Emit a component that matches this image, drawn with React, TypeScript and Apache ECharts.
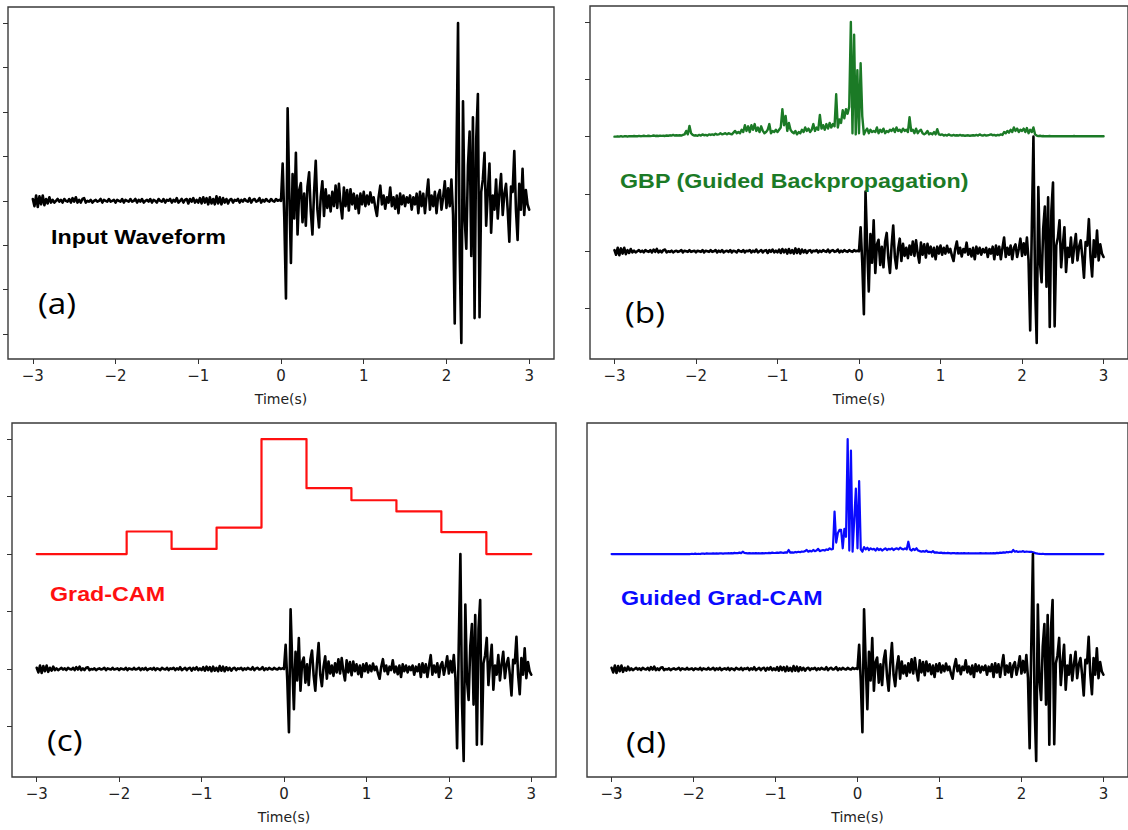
import React, { useEffect, useRef } from "react";
import * as echarts from "echarts";

// Sampling of every trace: first sample time and step (s)
const T0 = -3;
const DT = 0.02;

// Seismogram, normalised to the largest peak; pre-arrival noise, t = -3.00 … -0.02 s
const WAVE_PRE = [
  0.01, -0.03, 0.03, -0.035, 0.025, -0.02, 0.03, -0.025, 0.01, -0.015,
  0.02, -0.01, 0.005, -0.01, 0.0, 0.01, -0.005, 0.005, -0.01, 0.01,
  0.0, -0.005, 0.01, -0.01, 0.015, -0.005, 0.02, -0.01, 0.005, -0.01,
  0.01, 0.015, -0.01, 0.0, -0.005, 0.005, -0.01, 0.0, 0.005, -0.005,
  0.0, 0.01, -0.01, 0.005, 0.0, -0.005, 0.01, -0.005, 0.0, 0.005,
  -0.01, 0.005, 0.0, -0.005, 0.01, -0.01, 0.005, 0.0, -0.005, 0.01,
  -0.005, 0.0, 0.01, -0.01, 0.005, -0.005, 0.01, -0.01, 0.0, 0.005,
  -0.005, 0.01, -0.01, 0.005, 0.0, -0.01, 0.01, 0.0, -0.005, 0.01,
  -0.01, 0.005, 0.0, 0.01, -0.01, 0.005, -0.005, 0.015, -0.01, 0.0,
  0.01, -0.01, 0.005, 0.01, -0.015, 0.01, -0.005, 0.015, -0.01, 0.005,
  -0.01, 0.015, -0.015, 0.02, -0.01, 0.015, -0.02, 0.02, -0.015, 0.01,
  -0.02, 0.025, -0.015, 0.02, -0.02, 0.015, -0.01, 0.01, -0.015, 0.005,
  0.01, -0.01, 0.005, 0.0, 0.01, -0.01, 0.005, -0.005, 0.01, 0.0,
  -0.005, 0.015, -0.01, 0.005, 0.01, -0.005, 0.0, 0.015, -0.01, 0.005,
  -0.005, 0.01, 0.0, -0.005, 0.01, 0.0, -0.005, 0.01, 0.0, 0.005,
];

// P onset to end of record, t = 0.00 … 3.00 s
const WAVE_POST = [
  0.0, 0.21, -0.1, -0.55, 0.52, 0.05, -0.35, 0.15, -0.1, 0.27,
  -0.19, 0.06, 0.1, -0.12, 0.04, -0.14, 0.08, 0.16, -0.06, -0.19,
  0.05, 0.225, -0.05, -0.15, 0.02, 0.11, -0.085, 0.065, -0.04, 0.03,
  -0.06, 0.05, -0.03, 0.085, -0.04, 0.095, -0.02, -0.1, 0.075, -0.03,
  0.06, -0.055, 0.065, -0.02, 0.04, -0.045, 0.03, -0.07, 0.04, -0.02,
  0.05, -0.03, 0.03, -0.02, 0.047, -0.01, 0.02, -0.04, -0.085, 0.02,
  0.085, -0.02, 0.03, -0.045, 0.02, -0.01, 0.075, -0.03, 0.02, -0.045,
  0.03, -0.07, 0.04, -0.02, 0.03, -0.03, 0.02, -0.01, 0.03, -0.05,
  0.02, -0.02, 0.04, -0.07, 0.05, -0.03, 0.04, -0.07, 0.03, 0.12,
  -0.05, 0.03, -0.03, 0.05, -0.07, 0.03, 0.06, -0.05, 0.02, 0.11,
  -0.04, 0.07, -0.03, 0.12, -0.08, -0.69, 0.2, 1.0, -0.3, -0.8,
  0.56, -0.1, -0.27, 0.2, 0.39, -0.31, 0.47, -0.66, 0.35, 0.6,
  -0.655, 0.05, 0.12, 0.27, -0.14, 0.05, 0.21, -0.18, 0.03, -0.05,
  0.12, -0.1, 0.04, 0.15, -0.08, 0.04, 0.095, -0.05, -0.23, 0.08,
  0.05, 0.28, -0.05, -0.22, 0.095, -0.05, 0.18, -0.08, 0.06, -0.02,
  -0.05,
];

// Guided backpropagation saliency, t = -3.00 … 3.00 s
const GBP = [
  0, 0, 0.003, 0, 0.004, 0, 0.003, 0.005, 0, 0.004,
  0.005, 0.003, 0.006, 0.004, 0.003, 0.007, 0.004, 0.005, 0.008, 0.005,
  0.006, 0.008, 0.005, 0.007, 0.01, 0.006, 0.008, 0.006, 0.009, 0.007,
  0.008, 0.006, 0.01, 0.008, 0.012, 0.009, 0.015, 0.01, 0.012, 0.01,
  0.012, 0.01, 0.015, 0.02, 0.05, 0.02, 0.094, 0.03, 0.015, 0.01,
  0.012, 0.008, 0.015, 0.01, 0.02, 0.012, 0.015, 0.01, 0.02, 0.015,
  0.02, 0.015, 0.025, 0.018, 0.02, 0.03, 0.02, 0.025, 0.03, 0.02,
  0.03, 0.025, 0.02, 0.035, 0.05, 0.03, 0.04, 0.03, 0.06, 0.04,
  0.1, 0.05, 0.09, 0.04, 0.1, 0.06, 0.11, 0.05, 0.08, 0.04,
  0.09, 0.05, 0.03, 0.04, 0.06, 0.11, 0.03, 0.05, 0.04, 0.06,
  0.04, 0.06, 0.08, 0.24, 0.1, 0.18, 0.05, 0.12, 0.06, 0.04,
  0.03, 0.05, 0.02, 0.04, 0.03, 0.06, 0.04, 0.08, 0.05, 0.07,
  0.04, 0.06, 0.11, 0.05, 0.08, 0.06, 0.19, 0.07, 0.1, 0.06,
  0.11, 0.07, 0.12, 0.08, 0.11, 0.09, 0.37, 0.08, 0.15, 0.12,
  0.23, 0.16, 0.24, 0.2, 0.26, 1.0, 0.03, 0.89, 0.02, 0.58,
  0.03, 0.64, 0.18, 0.02, 0.05, 0.07, 0.03, 0.06, 0.04, 0.05,
  0.04, 0.08, 0.03, 0.06, 0.04, 0.07, 0.03, 0.05, 0.04, 0.06,
  0.05, 0.07, 0.04, 0.08, 0.05, 0.06, 0.04, 0.07, 0.05, 0.06,
  0.04, 0.17, 0.05, 0.06, 0.03, 0.07, 0.03, 0.05, 0.06, 0.03,
  0.02, 0.03, 0.05, 0.02, 0.03, 0.02, 0.04, 0.02, 0.065, 0.02,
  0.015, 0.02, 0.01, 0.015, 0.01, 0.02, 0.012, 0.01, 0.015, 0.01,
  0.012, 0.01, 0.015, 0.01, 0.012, 0.008, 0.01, 0.012, 0.008, 0.01,
  0.012, 0.01, 0.015, 0.01, 0.02, 0.012, 0.01, 0.015, 0.01, 0.012,
  0.015, 0.02, 0.012, 0.015, 0.01, 0.015, 0.012, 0.02, 0.015, 0.04,
  0.03, 0.05, 0.035, 0.06, 0.04, 0.08, 0.05, 0.07, 0.04, 0.06,
  0.05, 0.07, 0.04, 0.075, 0.03, 0.06, 0.04, 0.08, 0.02, 0.01,
  0.005, 0.008, 0.004, 0.006, 0.003, 0.005, 0.004, 0.006, 0.003, 0.005,
  0.004, 0.003, 0.005, 0.004, 0.003, 0.005, 0.004, 0.003, 0.005, 0.004,
  0.003, 0.004, 0.006, 0.003, 0.004, 0.005, 0.003, 0.004, 0.005, 0.003,
  0.004, 0.003, 0.005, 0.004, 0.003, 0.004, 0.003, 0.005, 0.003, 0.004,
  0.003,
];

// Guided Grad-CAM saliency, t = -3.00 … 3.00 s
const GUIDED_CAM = [
  0, 0, 0, 0, 0, 0, 0, 0, 0, 0,
  0, 0, 0, 0, 0, 0, 0, 0, 0, 0,
  0, 0, 0, 0, 0, 0, 0, 0, 0, 0,
  0, 0, 0, 0, 0, 0, 0, 0, 0, 0,
  0, 0, 0, 0, 0, 0, 0, 0, 0, 0.002,
  0, 0.003, 0, 0.002, 0, 0.003, 0.004, 0.002, 0.005, 0.003,
  0.004, 0.003, 0.006, 0.004, 0.005, 0.003, 0.006, 0.005, 0.004, 0.006,
  0.005, 0.007, 0.006, 0.008, 0.006, 0.01, 0.007, 0.008, 0.012, 0.008,
  0.02, 0.01, 0.008, 0.006, 0.008, 0.005, 0.007, 0.006, 0.008, 0.006,
  0.007, 0.005, 0.008, 0.006, 0.009, 0.007, 0.01, 0.008, 0.012, 0.009,
  0.01, 0.012, 0.01, 0.015, 0.012, 0.01, 0.015, 0.012, 0.035, 0.012,
  0.015, 0.012, 0.018, 0.015, 0.02, 0.016, 0.022, 0.02, 0.025, 0.035,
  0.02, 0.028, 0.022, 0.035, 0.025, 0.03, 0.045, 0.025, 0.03, 0.035,
  0.03, 0.04, 0.035, 0.05, 0.04, 0.045, 0.37, 0.1, 0.18, 0.21,
  0.21, 0.05, 0.22, 0.15, 1.0, 0.03, 0.9, 0.02, 0.3, 0.57,
  0.05, 0.635, 0.04, 0.02, 0.06, 0.04, 0.055, 0.035, 0.05, 0.04,
  0.045, 0.03, 0.05, 0.035, 0.045, 0.03, 0.04, 0.05, 0.035, 0.045,
  0.04, 0.05, 0.035, 0.045, 0.05, 0.04, 0.055, 0.045, 0.04, 0.05,
  0.04, 0.107, 0.04, 0.03, 0.045, 0.035, 0.05, 0.03, 0.025, 0.02,
  0.025, 0.02, 0.03, 0.018, 0.02, 0.015, 0.025, 0.012, 0.015, 0.012,
  0.01, 0.012, 0.008, 0.01, 0.007, 0.01, 0.008, 0.006, 0.008, 0.007,
  0.006, 0.008, 0.005, 0.007, 0.006, 0.008, 0.005, 0.006, 0.007, 0.005,
  0.006, 0.005, 0.007, 0.005, 0.006, 0.008, 0.006, 0.005, 0.007, 0.006,
  0.005, 0.007, 0.006, 0.008, 0.006, 0.01, 0.008, 0.012, 0.01, 0.015,
  0.012, 0.018, 0.015, 0.02, 0.016, 0.035, 0.02, 0.025, 0.018, 0.022,
  0.02, 0.025, 0.018, 0.022, 0.02, 0.018, 0.02, 0.015, 0.01, 0.005,
  0.003, 0.002, 0, 0.002, 0, 0, 0, 0, 0, 0,
  0, 0, 0, 0, 0, 0, 0, 0, 0, 0,
  0, 0, 0, 0, 0, 0, 0, 0, 0, 0,
  0, 0, 0, 0, 0, 0, 0, 0, 0, 0,
  0,
];

// Grad-CAM: one level per time bin (11 bins between these edges)
const CAM_EDGES = [-3, -2.455, -1.909, -1.364, -0.818, -0.273, 0.273, 0.818, 1.364, 1.909, 2.455, 3];
const CAM_LEVELS = [0, 0, 0.196, 0.044, 0.23, 1.0, 0.573, 0.468, 0.371, 0.19, 0];

// Saliency traces are drawn one unit above the waveform
const OFFSET = 1;

const TIME_TICKS = [-3, -2, -1, 0, 1, 2, 3];
const Y_TICKS_A = [-0.75, -0.5, -0.25, 0, 0.25, 0.5, 0.75, 1.0];
const Y_TICKS_STACKED = [-0.5, 0, 0.5, 1, 1.5, 2];

const GREEN = "#1b7a26";
const RED = "#ff1010";
const BLUE = "#0a0aff";

const toPairs = (vals: number[], off = 0) =>
  vals.map((v, i) => [Number((T0 + i * DT).toFixed(2)), v + off]);

const minusFmt = (v: number) => (v < 0 ? "\u2212" + Math.abs(v) : String(v));

export default function App() {
  const ref = useRef<HTMLDivElement>(null);

  useEffect(() => {
    if (!ref.current) return;
    const chart = echarts.init(ref.current, undefined, { renderer: "svg" });

    const wave = WAVE_PRE.concat(WAVE_POST);
    const wavePairs = toPairs(wave);

    const grids = [
      { left: 8, top: 7, width: 546, height: 352 },
      { left: 590, top: 6, width: 541, height: 353 },
      { left: 12, top: 423, width: 544, height: 354 },
      { left: 587, top: 423, width: 543, height: 354 },
    ];
    const yRanges = [
      [-0.89, 1.09],
      [-0.94, 2.14],
      [-0.94, 2.14],
      [-0.94, 2.14],
    ];
    const yTicks = [Y_TICKS_A, Y_TICKS_STACKED, Y_TICKS_STACKED, null];

    const axisFont = { fontFamily: "DejaVu Sans", color: "#222" };

    const xAxis = grids.map((_, k) => ({
      gridIndex: k,
      type: "value",
      position: "bottom",
      min: -3.3,
      max: 3.3,
      axisLine: { show: false, onZero: false },
      axisTick: {
        show: true,
        inside: false,
        length: 5,
        customValues: TIME_TICKS,
        lineStyle: { color: "#333", width: 1 },
      },
      axisLabel: {
        show: true,
        customValues: TIME_TICKS,
        margin: 9,
        fontSize: 15,
        ...axisFont,
        formatter: minusFmt,
      },
      splitLine: { show: false },
      name: "Time(s)",
      nameLocation: "middle",
      nameGap: 33,
      nameTextStyle: { fontSize: 14, ...axisFont },
    }));

    const yAxis = grids.map((_, k) => ({
      gridIndex: k,
      type: "value",
      position: "left",
      min: yRanges[k][0],
      max: yRanges[k][1],
      axisLine: { show: false, onZero: false },
      axisTick: {
        show: yTicks[k] !== null,
        inside: false,
        length: 5,
        customValues: yTicks[k] || [],
        lineStyle: { color: "#333", width: 1 },
      },
      axisLabel: { show: false },
      splitLine: { show: false },
    }));

    const line = (k: number, data: any[], color: string, width: number, z: number, extra: any = {}) => ({
      type: "line",
      xAxisIndex: k,
      yAxisIndex: k,
      data,
      symbol: "none",
      showSymbol: false,
      silent: true,
      z,
      emphasis: { disabled: true },
      lineStyle: { color, width, join: "round", cap: "round" },
      ...extra,
    });

    const camData = CAM_EDGES.map((x, i) => [
      x,
      OFFSET + CAM_LEVELS[Math.min(i, CAM_LEVELS.length - 1)],
    ]);

    const series = [
      line(0, wavePairs, "#000", 2.6, 3),
      line(1, toPairs(GBP, OFFSET), GREEN, 2.4, 2),
      line(1, wavePairs, "#000", 2.6, 3),
      line(2, camData, RED, 2.2, 2, { step: "end" }),
      line(2, wavePairs, "#000", 2.6, 3),
      line(3, toPairs(GUIDED_CAM, OFFSET), BLUE, 2.2, 2),
      line(3, wavePairs, "#000", 2.6, 3),
    ];

    const boldLabels = [
      { text: "Input Waveform", x: 51, y: 237, fill: "#000" },
      { text: "GBP (Guided Backpropagation)", x: 620, y: 181, fill: GREEN },
      { text: "Grad-CAM", x: 50, y: 594, fill: RED },
      { text: "Guided Grad-CAM", x: 621, y: 598, fill: BLUE },
    ];
    const panelLetters = [
      { text: "(a)", x: 38, y: 302 },
      { text: "(b)", x: 625, y: 311 },
      { text: "(c)", x: 47, y: 739 },
      { text: "(d)", x: 626, y: 741 },
    ];

    const graphic = [
      ...boldLabels.map((l) => ({
        type: "text",
        x: l.x,
        y: l.y,
        scaleX: 1.108,
        silent: true,
        z: 10,
        style: {
          text: l.text,
          fill: l.fill,
          fontSize: 21,
          fontWeight: "bold",
          fontFamily: '"Liberation Sans", Arial, sans-serif',
          textAlign: "left",
          textVerticalAlign: "middle",
          align: "left",
          verticalAlign: "middle",
        },
      })),
      ...panelLetters.map((l) => ({
        type: "text",
        x: l.x,
        y: l.y,
        scaleX: 1.108,
        silent: true,
        z: 10,
        style: {
          text: l.text,
          fill: "#000",
          fontSize: 30,
          fontWeight: "normal",
          fontFamily: '"Open Sans", sans-serif',
          textAlign: "left",
          textVerticalAlign: "middle",
          align: "left",
          verticalAlign: "middle",
        },
      })),
    ];

    chart.setOption({
      animation: false,
      backgroundColor: "#fff",
      grid: grids.map((g) => ({
        ...g,
        show: true,
        borderColor: "#3a3a3a",
        borderWidth: 1.4,
        backgroundColor: "transparent",
        containLabel: false,
      })),
      xAxis,
      yAxis,
      series,
      graphic,
    } as any);

    return () => chart.dispose();
  }, []);

  return (
    <div
      ref={ref}
      style={{ position: "absolute", left: 0, top: 0, width: 1128, height: 830 }}
    />
  );
}
